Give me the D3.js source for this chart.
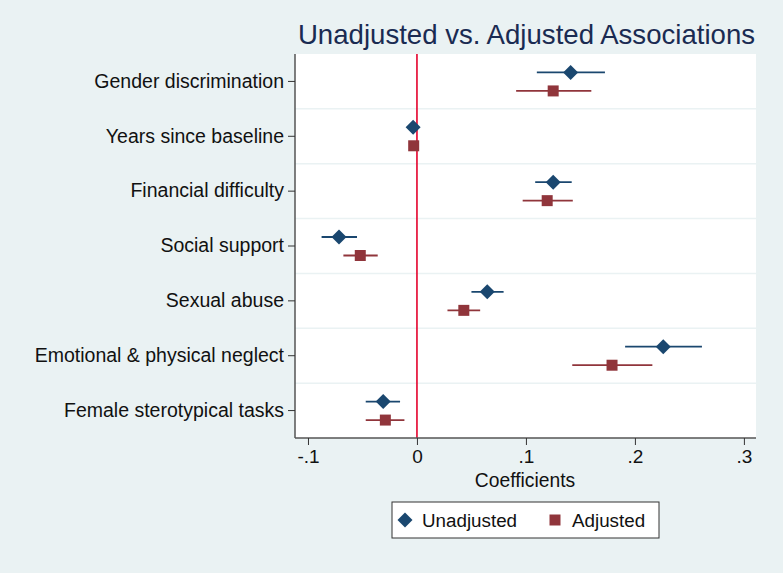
<!DOCTYPE html>
<html>
<head>
  <script src="https://cdn.jsdelivr.net/npm/d3@7"></script>
  <style type="text/css">
    body { margin: 0; background-color: #eaf2f3; }
    svg text { font-family: "Liberation Sans", Arial, sans-serif; }
  </style>
</head>
<body>
<svg id="chart" width="783" height="573"></svg>

<script type="text/javascript">
// coefficient plot, unadjusted vs adjusted

const categories = [
  'Gender discrimination',
  'Years since baseline',
  'Financial difficulty',
  'Social support',
  'Sexual abuse',
  'Emotional & physical neglect',
  'Female sterotypical tasks'
];

const unadjusted = [0.141, -0.0035, 0.125, -0.0715, 0.0645, 0.226, -0.031];
const unadjustedLo = [0.110, -0.0055, 0.1085, -0.0875, 0.050, 0.191, -0.047];
const unadjustedHi = [0.1725, -0.0015, 0.142, -0.055, 0.0795, 0.2615, -0.0155];

const adjusted = [0.125, -0.003, 0.1195, -0.052, 0.043, 0.179, -0.029];
const adjustedLo = [0.091, -0.005, 0.097, -0.0675, 0.028, 0.1425, -0.047];
const adjustedHi = [0.160, -0.001, 0.143, -0.036, 0.058, 0.216, -0.0115];

const xTicks = [-0.1, 0, 0.1, 0.2, 0.3];
const xTickLabels = ['-.1', '0', '.1', '.2', '.3'];

const navy = '#1a476f', maroon = '#90353b';

const svg = d3.select('#chart');
const plotL = 295, plotR = 756, plotT = 54, plotB = 438;

const x = d3.scaleLinear().domain([-0.1119, 0.3111]).range([plotL, plotR]);
const y = d3.scaleBand().domain(categories).range([plotT, plotB]).padding(0);

// plot region
svg.append('rect')
  .attr('x', plotL).attr('y', plotT)
  .attr('width', plotR - plotL).attr('height', plotB - plotT)
  .attr('fill', '#fff');

// grid lines between categories
svg.append('g').selectAll('line')
  .data(categories.slice(1))
  .enter().append('line')
  .attr('x1', plotL).attr('x2', plotR)
  .attr('y1', d => y(d)).attr('y2', d => y(d))
  .attr('stroke', '#eaf2f3').attr('stroke-width', 1.5);

// reference line at 0
svg.append('line')
  .attr('x1', x(0)).attr('x2', x(0))
  .attr('y1', plotT).attr('y2', plotB)
  .attr('stroke', '#e4002b').attr('stroke-width', 1.6);

// y axis
const yAxis = d3.axisLeft(y).tickSize(7).tickPadding(4);
const gy = svg.append('g').attr('transform', `translate(${plotL},0)`).call(yAxis);
gy.select('.domain').attr('stroke', '#555').attr('stroke-width', 1.5).attr('d', `M0,${plotT}V${plotB}`);
gy.selectAll('.tick line').attr('stroke', '#333');
gy.selectAll('text').attr('font-size', 19.5).attr('fill', '#111')
  .style('font-family', '"Liberation Sans", Arial, sans-serif');

// x axis
const xAxis = d3.axisBottom(x).tickValues(xTicks).tickSize(7).tickPadding(5)
  .tickFormat((d, i) => xTickLabels[i]);
const gx = svg.append('g').attr('transform', `translate(0,${plotB})`).call(xAxis);
gx.select('.domain').attr('stroke', '#555').attr('stroke-width', 1.5).attr('d', `M${plotL},0H${plotR}`);
gx.selectAll('.tick line').attr('stroke', '#333');
gx.selectAll('text').attr('font-size', 19).attr('fill', '#111')
  .style('font-family', '"Liberation Sans", Arial, sans-serif');

svg.append('text')
  .attr('x', 525).attr('y', 487)
  .attr('text-anchor', 'middle').attr('font-size', 19.3).attr('fill', '#111')
  .text('Coefficients');

// title
svg.append('text')
  .attr('x', 526.5).attr('y', 44)
  .attr('text-anchor', 'middle').attr('font-size', 27.6).attr('fill', '#1a2b52')
  .text('Unadjusted vs. Adjusted Associations');

function drawSeries(vals, lo, hi, color, dy, shape) {
  const g = svg.append('g');
  const rows = categories.map((c, i) => ({ c, v: vals[i], lo: lo[i], hi: hi[i] }));
  g.selectAll('line').data(rows).enter().append('line')
    .attr('x1', d => x(d.lo)).attr('x2', d => x(d.hi))
    .attr('y1', d => y(d.c) + y.bandwidth() / 2 + dy)
    .attr('y2', d => y(d.c) + y.bandwidth() / 2 + dy)
    .attr('stroke', color).attr('stroke-width', 1.8);
  g.selectAll('path').data(rows).enter().append('path')
    .attr('transform', d => `translate(${x(d.v)},${y(d.c) + y.bandwidth() / 2 + dy})`)
    .attr('d', shape)
    .attr('fill', color);
}

const diamond = 'M0,-7.5L7.5,0L0,7.5L-7.5,0Z';
const square = 'M-5.5,-5.5H5.5V5.5H-5.5Z';

drawSeries(unadjusted, unadjustedLo, unadjustedHi, navy, -9, diamond);
drawSeries(adjusted, adjustedLo, adjustedHi, maroon, 9.5, square);

// legend
const lg = svg.append('g');
lg.append('rect')
  .attr('x', 392).attr('y', 502).attr('width', 267).attr('height', 36)
  .attr('fill', '#fff').attr('stroke', '#333').attr('stroke-width', 1);
lg.append('path').attr('transform', 'translate(405,520)').attr('d', diamond).attr('fill', navy);
lg.append('text').attr('x', 422).attr('y', 527).attr('font-size', 18.8).attr('fill', '#111').text('Unadjusted');
lg.append('path').attr('transform', 'translate(555,520)').attr('d', square).attr('fill', maroon);
lg.append('text').attr('x', 572).attr('y', 527).attr('font-size', 18.8).attr('fill', '#111').text('Adjusted');
</script>
</body>
</html>
